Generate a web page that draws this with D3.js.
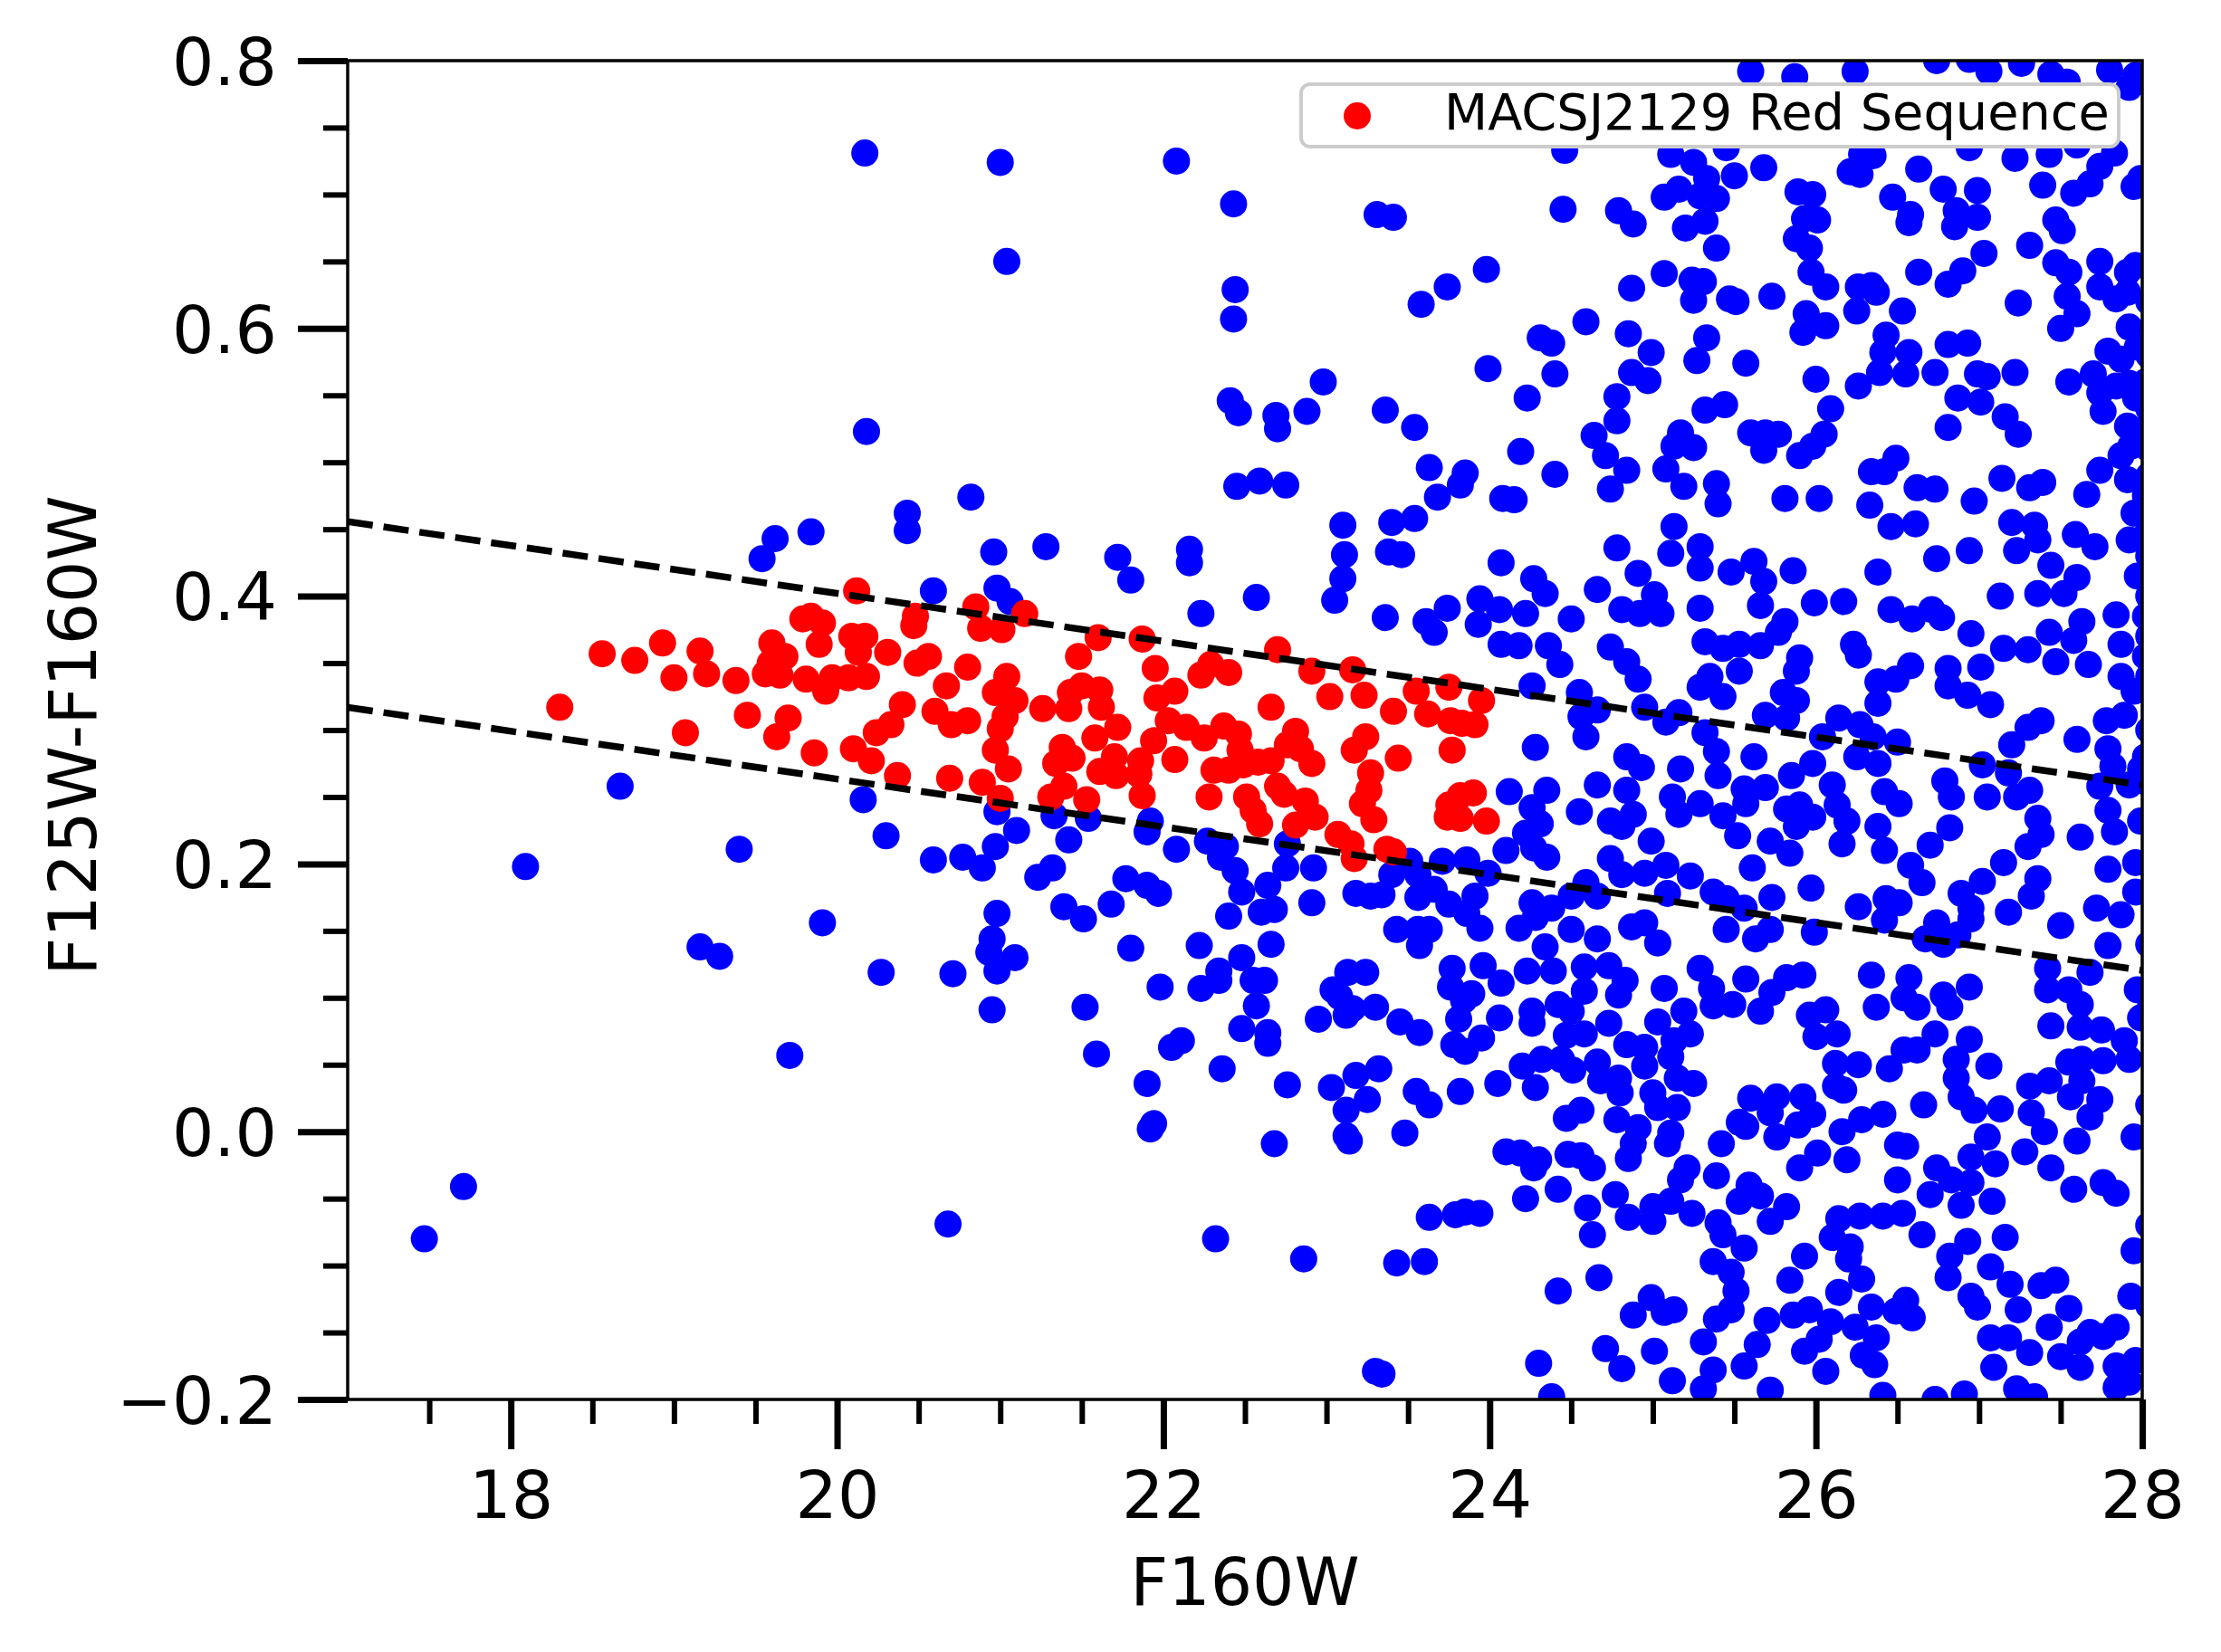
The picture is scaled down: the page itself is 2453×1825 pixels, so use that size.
<!DOCTYPE html>
<html><head><meta charset="utf-8">
<script src="https://cdn.jsdelivr.net/npm/d3@7"></script>
<style>html,body{margin:0;padding:0;background:#fff}svg{display:block}text{font-family:"DejaVu Sans",sans-serif}</style>
</head><body><svg id="c" width="2453" height="1825"></svg>
<script>
const xLabel = "F160W";
const yLabel = "F125W-F160W";
const legendLabel = "MACSJ2129 Red Sequence";
const xDomain = [17, 28];
const yDomain = [-0.2, 0.8];
const xMajorTicks = [18, 20, 22, 24, 26, 28];
const xMinorTicks = [17.5,18.5,19,19.5,20.5,21,21.5,22.5,23,23.5,24.5,25,25.5,26.5,27,27.5];
const yMajorTicks = [-0.2, 0.0, 0.2, 0.4, 0.6, 0.8];
const yMinorTicks = [-0.15,-0.1,-0.05,0.05,0.1,0.15,0.25,0.3,0.35,0.45,0.5,0.55,0.65,0.7,0.75];
const fitLineX = [17, 28];
const upperLineY = [0.4557, 0.259];
const lowerLineY = [0.317, 0.1205];

const redSequence = [
[18.30,0.317],[18.56,0.357],[18.76,0.352],[18.93,0.365],[19.00,0.339],[19.16,0.359],[19.20,0.342],[19.07,0.298],[19.38,0.337],[19.45,0.311],[19.60,0.365],[19.70,0.309],[19.63,0.295],[19.56,0.342],[19.65,0.341],[19.68,0.355],[19.59,0.350],[19.81,0.338],[19.79,0.383],[19.84,0.385],[19.91,0.380],[19.89,0.364],[19.93,0.329],[19.97,0.339],[19.86,0.283],[20.09,0.370],[20.17,0.370],[20.13,0.358],[20.31,0.358],[20.07,0.339],[20.18,0.340],[20.12,0.404],[20.10,0.286],[20.21,0.277],[20.37,0.266],[20.48,0.385],[20.47,0.378],[20.49,0.350],[20.56,0.355],[20.67,0.333],[20.80,0.347],[20.85,0.392],[20.88,0.376],[20.40,0.319],[20.33,0.304],[20.24,0.298],[20.60,0.314],[20.70,0.304],[20.80,0.307],[20.69,0.264],[20.89,0.261],[20.97,0.328],
[21.15,0.387],[21.01,0.375],[21.60,0.369],[21.87,0.368],[21.48,0.355],[21.04,0.340],[21.09,0.322],[21.03,0.310],[21.00,0.301],[20.97,0.285],[21.05,0.271],[21.00,0.249],[21.26,0.316],[21.43,0.328],[21.50,0.333],[21.61,0.330],[21.42,0.316],[21.62,0.317],[21.72,0.302],[21.58,0.294],[21.38,0.287],[21.44,0.279],[21.34,0.275],[21.70,0.280],[21.61,0.269],[21.71,0.266],[21.86,0.277],[21.85,0.267],[21.87,0.251],[21.53,0.248],[21.31,0.250],[21.39,0.258],[21.95,0.346],[21.96,0.324],[22.07,0.329],[22.03,0.307],[22.14,0.302],[21.94,0.292],[22.07,0.278],[22.23,0.341],[22.29,0.349],[22.40,0.343],[22.37,0.303],[22.46,0.297],[22.25,0.294],[22.31,0.270],[22.40,0.270],[22.49,0.274],[22.58,0.276],[22.66,0.277],[22.47,0.285],[22.28,0.250],[22.70,0.360],[22.66,0.317],[22.81,0.299],[22.76,0.289],[22.84,0.286],[22.91,0.275],[22.91,0.344],[23.02,0.325],[23.16,0.345],[23.23,0.326],[23.24,0.295],[23.17,0.285],[23.41,0.314],[23.44,0.279],[23.27,0.268],[23.26,0.255],[23.22,0.245],[23.29,0.233],[23.37,0.211],[23.41,0.209],[23.17,0.204],[23.15,0.215],[23.07,0.222],[22.93,0.235],[22.87,0.247],[22.81,0.229],[22.70,0.258],[22.74,0.252],[22.51,0.250],[22.55,0.240],[22.59,0.230],[23.55,0.329],[23.62,0.312],[23.75,0.332],[23.76,0.307],[23.83,0.305],[23.77,0.285],[23.75,0.244],[23.82,0.251],[23.74,0.235],[23.82,0.234],
[23.95,0.322],[23.91,0.304],[23.90,0.253],[23.98,0.232]
];

const blueSample = [
[20.17,0.731],[20.18,0.523],[20.82,0.474],[20.43,0.462],[20.43,0.449],[19.84,0.448],[19.62,0.443],[19.54,0.428],[20.96,0.433],[20.98,0.406],[20.59,0.404],
[18.67,0.258],[20.16,0.248],[20.30,0.221],[19.40,0.211],[20.59,0.203],[20.77,0.205],[20.89,0.197],[20.97,0.213],[20.98,0.239],[18.09,0.198],[19.91,0.156],[20.98,0.163],
[17.47,-0.080],[17.71,-0.041],[19.16,0.138],[19.28,0.131],[19.71,0.057],[20.27,0.119],[20.71,0.118],[20.95,0.091],[20.93,0.134],[20.95,0.144],[20.98,0.120],[20.68,-0.069],
[21.28,0.437],[21.72,0.429],[21.80,0.412],[22.16,0.435],[22.16,0.425],[22.57,0.399],[22.23,0.387],[23.11,0.431],[23.10,0.413],[23.05,0.397],[23.38,0.433],[23.46,0.431],[23.36,0.384],[23.61,0.381],[23.66,0.373],[23.74,0.391],[21.06,0.396],
[21.10,0.225],[21.33,0.236],[21.54,0.234],[21.42,0.218],[21.32,0.197],[21.23,0.190],[21.39,0.168],[21.68,0.170],[21.77,0.189],[21.90,0.184],[21.97,0.178],[21.92,0.232],[21.90,0.224],[22.08,0.211],[22.27,0.217],[22.38,0.213],[22.35,0.205],[22.44,0.195],[22.48,0.179],[22.64,0.184],[22.60,0.164],[22.68,0.166],[22.76,0.215],[22.75,0.197],[22.92,0.197],[22.91,0.171],[23.18,0.178],[23.27,0.176],[23.34,0.177],[23.40,0.192],[23.51,0.202],[23.56,0.192],[23.71,0.202],[23.56,0.175],[23.66,0.181],[23.75,0.170],[21.51,0.159],[22.40,0.161],[23.86,0.163],
[21.00,0.724],[22.08,0.725],[22.43,0.693],[23.31,0.685],[23.41,0.683],[21.04,0.650],[22.44,0.629],[22.43,0.607],[23.58,0.618],[23.74,0.631],[22.98,0.560],[22.41,0.546],[22.46,0.537],[22.69,0.535],[22.70,0.525],[22.88,0.538],[23.36,0.539],[23.54,0.526],[23.63,0.496],[23.85,0.492],[23.82,0.483],[23.68,0.474],[22.45,0.482],[22.59,0.486],[22.75,0.483],[23.10,0.453],[23.40,0.455],[23.54,0.458],
[21.09,0.130],[21.80,0.137],[22.22,0.139],[22.66,0.140],[22.48,0.130],[22.34,0.120],[22.34,0.113],[22.23,0.107],[21.98,0.108],[21.52,0.093],[22.55,0.113],[22.62,0.113],[22.57,0.094],[22.48,0.077],[22.64,0.074],[22.64,0.066],[21.59,0.058],[22.05,0.063],[22.11,0.068],[22.36,0.047],[21.90,0.036],[21.94,0.006],[21.92,0.002],[22.76,0.035],[22.68,-0.009],[23.13,0.119],[23.24,0.119],[23.04,0.106],[23.08,0.101],[23.16,0.092],[23.12,0.087],[23.30,0.093],[22.95,0.084],[23.45,0.082],[23.57,0.074],[23.43,0.151],[23.56,0.151],[23.63,0.151],[23.57,0.139],[23.77,0.122],[23.76,0.108],[23.84,0.098],[23.81,0.084],[23.78,0.065],[23.85,0.060],[23.32,0.047],[23.18,0.042],[23.03,0.033],[23.25,0.024],[23.12,0.016],[23.12,-0.003],[23.14,-0.007],[23.48,-0.001],[23.55,0.030],[23.63,0.020],[23.82,0.030],[23.63,-0.064],[23.79,-0.062],[23.85,-0.060],[22.32,-0.080],[22.86,-0.095],[23.43,-0.098],[23.60,-0.097],[23.30,-0.179],[23.34,-0.181],
[25.60,0.792],[25.87,0.788],[26.24,0.792],[26.74,0.800],[26.94,0.801],[27.06,0.792],[27.26,0.798],[27.44,0.790],[27.54,0.784],[27.80,0.793],[27.92,0.780],[27.96,0.789],
[24.46,0.733],[25.11,0.730],[25.45,0.735],[25.25,0.724],[25.33,0.712],[25.16,0.704],[25.07,0.698],[25.29,0.699],[25.39,0.697],[25.50,0.714],[25.68,0.720],[26.28,0.730],[26.35,0.729],[26.21,0.717],[26.27,0.715],[26.63,0.719],[26.94,0.735],[27.22,0.727],[27.43,0.730],[27.60,0.737],[27.83,0.731],[27.74,0.721],[27.68,0.708],[27.58,0.701],[27.39,0.707],[27.95,0.706],[27.99,0.712],[25.89,0.702],[25.98,0.700],[26.47,0.698],[26.78,0.704],[26.99,0.703],[26.58,0.685],[26.57,0.679],[26.86,0.688],[26.99,0.683],[26.85,0.676],[27.47,0.681],[27.51,0.673],[27.31,0.662],[27.03,0.656],[24.45,0.689],[24.79,0.688],[24.88,0.678],[25.20,0.675],[25.32,0.680],[25.39,0.660],[25.93,0.682],[26.01,0.681],[25.88,0.667],[25.96,0.660],
[23.98,0.644],[25.07,0.641],[25.24,0.636],[25.31,0.635],[24.87,0.630],[25.25,0.621],[25.47,0.622],[25.51,0.620],[25.73,0.624],[25.97,0.642],[26.06,0.631],[26.26,0.631],[26.34,0.632],[26.37,0.627],[26.63,0.642],[26.90,0.643],[26.81,0.633],[27.47,0.649],[27.55,0.642],[27.74,0.650],[27.91,0.642],[27.96,0.647],[27.74,0.631],[27.84,0.622],[27.91,0.627],[27.54,0.624],[27.60,0.611],[27.50,0.600],[27.24,0.619],[27.92,0.601],[26.25,0.613],[26.53,0.613],[25.94,0.611],[26.06,0.602],[25.92,0.597],[26.43,0.595],
[24.59,0.605],[24.31,0.593],[24.38,0.589],[24.85,0.596],[24.99,0.582],[25.33,0.593],[25.27,0.576],[25.57,0.574],[23.99,0.570],[24.40,0.566],[24.23,0.548],[24.87,0.567],[24.97,0.561],[24.78,0.549],[24.78,0.531],[24.64,0.520],[24.71,0.505],[24.84,0.494],[24.19,0.508],[24.40,0.491],[24.08,0.473],[24.15,0.472],[24.74,0.480],[25.08,0.495],[25.19,0.482],[25.17,0.522],[25.13,0.512],[25.25,0.511],[25.32,0.539],[25.44,0.543],[25.39,0.484],[25.40,0.469],
[26.00,0.562],[26.09,0.540],[26.26,0.557],[26.39,0.567],[26.41,0.582],[26.57,0.582],[26.55,0.566],[26.73,0.567],[26.81,0.588],[26.93,0.589],[26.99,0.566],[27.05,0.564],[27.22,0.567],[26.87,0.548],[27.01,0.545],[27.16,0.534],[27.24,0.521],[26.81,0.526],[27.55,0.560],[27.70,0.566],[27.74,0.552],[27.76,0.538],[27.84,0.557],[27.92,0.559],[27.79,0.583],[27.87,0.577],[27.97,0.586],[27.96,0.548],[27.91,0.527],
[25.60,0.522],[25.69,0.522],[25.77,0.521],[25.68,0.509],[25.90,0.505],[25.98,0.512],[26.05,0.521],[26.34,0.493],[26.42,0.493],[26.49,0.503],[26.62,0.481],[26.73,0.480],[27.14,0.488],[27.31,0.481],[27.39,0.485],[27.74,0.494],[27.66,0.476],[27.91,0.487],[27.87,0.505],[27.93,0.512],[25.81,0.473],[26.02,0.473],[26.97,0.471],[26.33,0.468],
[26.46,0.452],[26.61,0.454],[27.20,0.455],[27.34,0.453],[27.36,0.442],[27.23,0.434],[27.59,0.446],[27.71,0.437],[27.92,0.442],[27.95,0.462],[27.97,0.415],
[24.78,0.436],[25.13,0.452],[25.11,0.432],[25.29,0.437],[25.29,0.421],[25.48,0.418],[25.62,0.426],[25.68,0.411],[25.66,0.393],[25.86,0.419],[26.74,0.428],[26.94,0.434],[26.38,0.418],[27.13,0.400],[27.44,0.423],[27.60,0.414],[27.36,0.402],[27.52,0.402],
[24.07,0.425],[24.27,0.413],[24.34,0.402],[23.94,0.398],[24.06,0.390],[23.93,0.379],[24.22,0.387],[24.50,0.383],[24.66,0.405],[24.91,0.417],[25.01,0.401],[24.81,0.390],[24.92,0.387],[25.05,0.387],[25.29,0.391],[25.99,0.395],[26.17,0.396],[26.46,0.390],[26.59,0.383],[26.71,0.390],[26.77,0.384],[25.81,0.381],[26.95,0.372],
[24.07,0.364],[24.18,0.363],[24.36,0.363],[24.43,0.349],[24.74,0.362],[24.84,0.351],[24.91,0.338],[25.32,0.366],[25.43,0.361],[25.53,0.364],[25.66,0.363],[25.77,0.373],[25.90,0.354],[25.88,0.344],[26.23,0.364],[26.26,0.356],[26.58,0.348],[26.49,0.338],[26.38,0.336],[26.38,0.320],[26.81,0.346],[26.81,0.333],[26.93,0.326],[27.07,0.319],[27.01,0.347],[27.15,0.361],[27.30,0.360],[27.43,0.373],[27.58,0.367],[27.63,0.381],[27.84,0.386],[27.47,0.351],[27.67,0.349],[27.87,0.364],[27.87,0.340],[27.95,0.329],
[24.26,0.333],[25.35,0.340],[25.53,0.344],[25.29,0.332],[25.43,0.325],[25.80,0.328],[25.88,0.322],[25.69,0.311],[25.82,0.309],[24.95,0.317],[25.16,0.313],[25.08,0.306],[24.55,0.328],[24.56,0.310],[24.66,0.315],[24.59,0.295],[24.28,0.287],
[26.14,0.309],[26.27,0.304],[26.35,0.295],[26.50,0.291],[26.04,0.295],[25.32,0.298],[25.39,0.284],[25.62,0.280],[25.40,0.266],[25.17,0.271],[24.84,0.280],[24.93,0.272],[25.98,0.275],[25.85,0.266],[26.25,0.280],[26.38,0.275],[26.79,0.262],[26.83,0.250],[27.02,0.274],[27.20,0.289],[27.30,0.302],[27.38,0.307],[27.18,0.268],[27.05,0.250],[27.23,0.250],[27.31,0.255],[27.60,0.293],[27.78,0.307],[27.89,0.311],[27.79,0.286],[27.82,0.273],[27.74,0.258],[27.92,0.259],[27.99,0.271],
[24.12,0.254],[24.35,0.255],[24.26,0.242],[24.31,0.230],[24.22,0.223],[24.10,0.210],[24.35,0.205],[24.27,0.212],[24.55,0.239],[24.66,0.259],[24.74,0.232],[24.84,0.255],[24.88,0.237],[24.81,0.228],[24.99,0.217],[25.12,0.250],[25.16,0.237],[25.29,0.245],[25.43,0.236],[25.56,0.256],[25.57,0.245],[25.69,0.257],[25.52,0.221],[25.72,0.217],[25.82,0.241],[25.90,0.244],[25.88,0.228],[25.84,0.208],[25.98,0.235],[26.10,0.259],[26.13,0.244],[26.19,0.232],[26.16,0.215],[26.38,0.228],[26.42,0.254],[26.51,0.245],[26.42,0.210],[26.70,0.214],[26.82,0.227],[27.36,0.234],[27.38,0.222],[27.30,0.213],[27.62,0.220],[27.79,0.240],[27.83,0.224],[27.99,0.232],
[23.86,0.203],[23.99,0.193],[23.91,0.176],[24.74,0.204],[24.81,0.192],[24.95,0.193],[25.08,0.199],[25.23,0.191],[25.09,0.178],[25.61,0.197],[25.97,0.182],[25.73,0.175],[25.37,0.179],[25.45,0.174],[25.56,0.167],[26.58,0.199],[26.65,0.186],[26.26,0.168],[26.43,0.174],[26.51,0.171],[26.42,0.158],[26.89,0.178],[27.02,0.187],[26.95,0.167],[26.95,0.159],[26.74,0.156],[27.18,0.164],[27.15,0.201],[27.36,0.189],[27.32,0.176],[27.72,0.167],[27.50,0.154],[27.87,0.162],[27.79,0.139],[27.79,0.196],[27.96,0.201],[27.96,0.179],
[24.26,0.171],[24.38,0.167],[24.50,0.176],[24.59,0.186],[24.66,0.176],[24.28,0.160],[24.18,0.152],[23.94,0.152],[24.50,0.151],[24.66,0.144],[24.87,0.153],[24.95,0.156],[25.03,0.141],[24.34,0.138],[25.45,0.151],[25.63,0.144],[25.72,0.151],[25.99,0.149],[26.67,0.144],[26.87,0.147],[26.78,0.140],
[23.96,0.124],[24.07,0.111],[24.23,0.120],[24.39,0.120],[24.58,0.123],[24.73,0.124],[24.83,0.113],[24.58,0.105],[24.79,0.102],[25.07,0.107],[23.89,0.103],[24.06,0.085],[24.26,0.090],[24.26,0.081],[24.42,0.095],[24.50,0.090],[24.47,0.072],[24.58,0.073],[24.73,0.081],[24.84,0.065],[23.95,0.070],[24.20,0.049],[24.32,0.054],[24.44,0.054],[24.51,0.046],[24.66,0.052],[24.68,0.038],[24.79,0.040],[24.80,0.029],[24.28,0.033],[24.05,0.036],[25.03,0.082],[25.19,0.090],[25.23,0.073],[25.13,0.068],[24.95,0.063],[25.11,0.056],[24.95,0.049],[25.15,0.040],[25.25,0.036],[25.00,0.029],[25.03,0.018],[25.15,0.018],
[25.29,0.122],[25.36,0.107],[25.37,0.094],[25.49,0.095],[25.57,0.114],[25.73,0.104],[25.66,0.090],[25.82,0.115],[25.92,0.117],[25.96,0.087],[26.06,0.091],[26.00,0.071],[26.13,0.073],[26.34,0.117],[26.37,0.093],[26.57,0.115],[26.54,0.100],[26.62,0.093],[26.78,0.102],[26.82,0.093],[26.94,0.108],[26.73,0.073],[26.94,0.069],[26.54,0.061],[26.62,0.061],[26.45,0.047],[26.86,0.054],[26.86,0.040],[26.89,0.026],[26.97,0.016],[27.13,0.017],[27.06,0.049],[26.66,0.020],[26.12,0.051],[26.26,0.050],[26.12,0.034],[26.17,0.031],
[27.42,0.122],[27.68,0.119],[27.42,0.106],[27.55,0.106],[27.62,0.095],[27.44,0.079],[27.62,0.078],[27.75,0.076],[27.89,0.068],[27.92,0.054],[27.97,0.106],[27.99,0.085],[27.31,0.034],[27.43,0.038],[27.55,0.052],[27.63,0.054],[27.76,0.053],[27.63,0.038],[27.56,0.026],[27.74,0.024],[27.68,0.011],[27.32,0.014],[27.40,0.000],[27.60,-0.007],[27.28,-0.015],[27.44,-0.027],[27.05,-0.004],[26.95,-0.019],[27.10,-0.024],[27.95,-0.004],
[24.47,0.010],[24.56,0.016],[24.78,0.009],[24.91,0.003],[24.88,-0.009],[24.85,-0.020],[25.11,-0.001],[25.09,-0.009],[24.10,-0.015],[24.19,-0.016],[24.30,-0.021],[24.27,-0.027],[24.48,-0.017],[24.56,-0.018],[24.63,-0.027],[24.42,-0.043],[24.22,-0.050],[23.94,-0.061],[24.60,-0.057],[24.63,-0.077],[24.77,-0.047],[24.85,-0.064],[25.00,-0.056],[25.00,-0.067],[25.11,-0.052],[25.24,-0.061],[25.17,-0.036],[25.21,-0.027],[25.39,-0.033],[25.42,-0.009],[25.40,-0.068],[25.43,-0.077],[25.56,-0.087],[25.53,0.007],[25.60,0.025],[25.76,0.026],[25.72,0.014],[25.57,0.004],[25.76,-0.004],[25.89,0.005],[25.92,0.026],[25.98,0.013],[25.59,-0.040],[25.66,-0.048],[25.53,-0.052],[25.72,-0.067],[25.82,-0.056],[25.90,-0.027],[26.01,-0.016],[26.19,-0.021],[26.16,0.000],[26.28,0.009],[26.41,0.013],[26.50,-0.010],[26.55,-0.011],[26.50,-0.036],[26.74,-0.027],[26.70,-0.047],[26.83,-0.036],[26.95,-0.038],[26.89,-0.055],[27.08,-0.052],[27.58,-0.043],[27.76,-0.038],[27.84,-0.046],
[26.14,-0.065],[26.27,-0.063],[26.41,-0.063],[26.53,-0.061],[26.10,-0.079],[26.21,-0.086],[26.20,-0.095],[26.28,-0.110],[26.65,-0.077],[26.93,-0.082],[27.16,-0.079],[26.82,-0.093],[26.81,-0.109],[27.07,-0.101],[27.19,-0.114],[27.38,-0.115],[27.47,-0.111],[27.24,-0.133],[26.95,-0.123],[26.99,-0.131],[27.55,-0.132],[27.43,-0.146],[27.68,-0.150],[27.76,-0.153],[27.84,-0.146],[27.62,-0.157],[27.95,-0.089],[27.93,-0.123],
[25.93,-0.093],[25.84,-0.111],[25.37,-0.097],[25.48,-0.105],[25.51,-0.119],[25.48,-0.133],[25.39,-0.140],[25.31,-0.157],[25.70,-0.141],[25.64,-0.159],[25.56,-0.175],[25.37,-0.178],[25.31,-0.192],[25.12,-0.186],[25.01,-0.164],[24.81,-0.177],[24.71,-0.162],[24.88,-0.137],[24.99,-0.124],[25.13,-0.133],[25.07,-0.135],[24.30,-0.173],[24.38,-0.198],[25.72,-0.193],[24.42,-0.119],[24.67,-0.109],
[26.14,-0.120],[25.86,-0.137],[25.96,-0.133],[26.09,-0.142],[26.02,-0.155],[25.93,-0.164],[26.24,-0.146],[26.37,-0.154],[26.29,-0.167],[26.36,-0.174],[26.06,-0.179],[26.34,-0.131],[26.49,-0.134],[26.55,-0.126],[26.59,-0.139],[26.41,-0.197],[26.73,-0.200],[26.91,-0.196],
[27.07,-0.154],[27.18,-0.154],[27.31,-0.165],[27.09,-0.176],[27.50,-0.168],[27.62,-0.176],[27.84,-0.175],[27.84,-0.191],[27.23,-0.192],[27.34,-0.198],[27.92,-0.187],[27.96,-0.171],
[28.04,0.62],[28.04,0.58],[28.04,0.54],[28.04,0.51],[28.04,0.49],[28.04,0.46],[28.04,0.43],[28.04,0.40],[28.04,0.37],[28.04,0.34],[28.04,0.30],[28.04,0.26],[28.04,0.20],[28.04,0.14],[28.04,0.09],[28.04,0.02],[28.04,-0.07],[28.04,-0.13],[28.04,-0.17],
[28.02,0.56],[28.02,0.525],[28.02,0.475],[28.02,0.445],[28.02,0.385],[28.02,0.355],[28.02,0.28]
];

const W = 2453, H = 1825;
const plot = {left: 384, right: 2366, top: 67, bottom: 1546};
const svg = d3.select("#c");
const x = d3.scaleLinear().domain(xDomain).range([plot.left, plot.right]);
const y = d3.scaleLinear().domain(yDomain).range([plot.bottom, plot.top]);

svg.append("defs").append("clipPath").attr("id", "clip")
  .append("rect").attr("x", plot.left).attr("y", plot.top)
  .attr("width", plot.right - plot.left).attr("height", plot.bottom - plot.top);

const pts = svg.append("g").attr("clip-path", "url(#clip)");
pts.selectAll("circle.b").data(blueSample).join("circle").attr("class", "b")
  .attr("cx", d => x(d[0])).attr("cy", d => y(d[1])).attr("r", 15).attr("fill", "#0000ff");
pts.selectAll("circle.r").data(redSequence).join("circle").attr("class", "r")
  .attr("cx", d => x(d[0])).attr("cy", d => y(d[1])).attr("r", 15).attr("fill", "#ff0000");

const line = d3.line().x(d => x(d[0])).y(d => y(d[1]));
[upperLineY, lowerLineY].forEach(ys => {
  pts.append("path").datum(fitLineX.map((v, i) => [v, ys[i]]))
    .attr("d", line).attr("fill", "none").attr("stroke", "#000")
    .attr("stroke-width", 7.5).attr("stroke-dasharray", "28,12");
});

// spines
svg.append("rect").attr("x", plot.left).attr("y", plot.top)
  .attr("width", plot.right - plot.left).attr("height", plot.bottom - plot.top)
  .attr("fill", "none").attr("stroke", "#000").attr("stroke-width", 3.5);

// x axis
const gx = svg.append("g").attr("transform", `translate(0,${plot.bottom})`);
gx.call(d3.axisBottom(x).tickValues(xMinorTicks).tickSize(27).tickFormat(""))
  .call(g => g.select(".domain").remove())
  .call(g => g.selectAll(".tick line").attr("stroke-width", 6));
const gx2 = svg.append("g").attr("transform", `translate(0,${plot.bottom})`);
gx2.call(d3.axisBottom(x).tickValues(xMajorTicks).tickSize(55).tickFormat(d3.format("d")))
  .call(g => g.select(".domain").remove())
  .call(g => g.selectAll(".tick line").attr("stroke-width", 7))
  .call(g => g.selectAll(".tick text").attr("y", 131).attr("dy", null)
     .attr("font-size", 73).attr("font-family", "DejaVu Sans").attr("fill", "#000"));

// y axis
const gy = svg.append("g").attr("transform", `translate(${plot.left},0)`);
gy.call(d3.axisLeft(y).tickValues(yMinorTicks).tickSize(27).tickFormat(""))
  .call(g => g.select(".domain").remove())
  .call(g => g.selectAll(".tick line").attr("stroke-width", 6));
const gy2 = svg.append("g").attr("transform", `translate(${plot.left},0)`);
gy2.call(d3.axisLeft(y).tickValues(yMajorTicks).tickSize(55).tickFormat(d3.format(".1f")))
  .call(g => g.select(".domain").remove())
  .call(g => g.selectAll(".tick line").attr("stroke-width", 7))
  .call(g => g.selectAll(".tick text").attr("x", -78).attr("dy", "0.36em")
     .attr("font-size", 73).attr("font-family", "DejaVu Sans").attr("fill", "#000"));

// axis labels
svg.append("text").attr("x", (plot.left + plot.right) / 2).attr("y", 1773)
  .attr("text-anchor", "middle").attr("font-size", 73).text(xLabel);
svg.append("text").attr("transform", `translate(106,${(plot.top + plot.bottom) / 2 + 6}) rotate(-90)`)
  .attr("text-anchor", "middle").attr("font-size", 73).text(yLabel);

// legend
const lg = svg.append("g");
lg.append("rect").attr("x", 1437).attr("y", 93).attr("width", 903).attr("height", 69)
  .attr("rx", 10).attr("fill", "#fff").attr("stroke", "#cccccc").attr("stroke-width", 4);
lg.append("circle").attr("cx", 1499).attr("cy", 128).attr("r", 15).attr("fill", "#ff0000");
lg.append("text").attr("x", 1595).attr("y", 143).attr("font-size", 55.8).text(legendLabel);
</script></body></html>
